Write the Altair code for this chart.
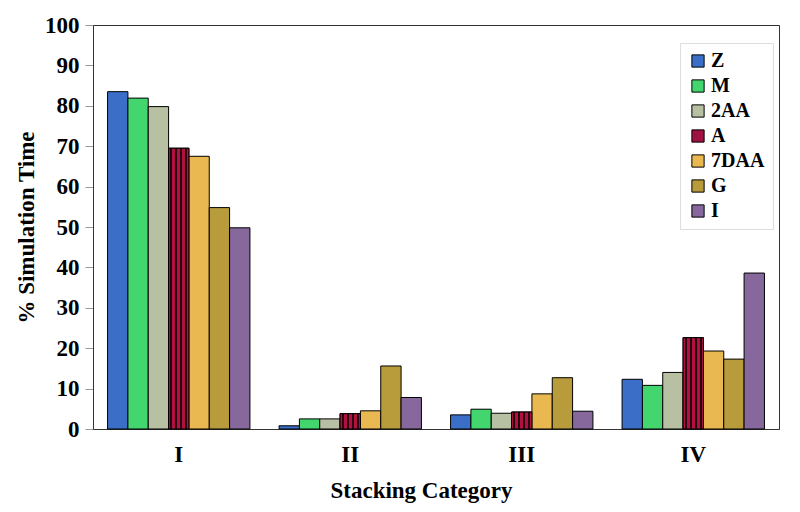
import altair as alt
import pandas as pd

categories = ["I", "II", "III", "IV"]
series = ["Z", "M", "2AA", "A", "7DAA", "G", "I"]
colors = ["#3b6fc7", "#44d66e", "#b7c0a2", "#9e1240", "#eab850", "#b89c3c", "#86689c"]

vals_Z = [83.5, 0.8, 3.5, 12.3]
vals_M = [81.9, 2.5, 4.9, 10.8]
vals_2AA = [79.8, 2.5, 3.9, 14.0]
vals_A = [69.5, 3.8, 4.2, 22.6]
vals_7DAA = [67.5, 4.5, 8.7, 19.3]
vals_G = [54.8, 15.6, 12.7, 17.3]
vals_I = [49.8, 7.8, 4.4, 38.6]

all_vals = [vals_Z, vals_M, vals_2AA, vals_A, vals_7DAA, vals_G, vals_I]
rows = []
for s, vs in zip(series, all_vals):
    for c, v in zip(categories, vs):
        rows.append({"cat": c, "series": s, "value": v})
df = pd.DataFrame(rows)

FONT = "Liberation Serif"

# vertical stripe fill (style only) for series A
stops = []
red, dark = "#b0123f", "#2a0010"
for k in range(4):
    a = (k * 5 + 1.5) / 20
    b = (k * 5 + 3.5) / 20
    stops += [{"offset": a, "color": red}, {"offset": a, "color": dark},
              {"offset": b, "color": dark}, {"offset": b, "color": red}]
stripe_fill = alt.LinearGradient(gradient="linear", x1=0, x2=1, y1=0, y2=0,
                                 stops=[{"offset": 0, "color": red}] + stops + [{"offset": 1, "color": red}])

x_enc = alt.X("cat:N", sort=categories, title="Stacking Category",
              scale=alt.Scale(paddingInner=0.17, paddingOuter=0.085),
              axis=alt.Axis(labelAngle=0, ticks=False, domain=True, domainColor="#333",
                            labelFontSize=23, labelFont=FONT, labelFontWeight="bold",
                            labelColor="black", labelPadding=14,
                            titleFontSize=23, titleFont=FONT, titleFontWeight="bold",
                            titleColor="black", titlePadding=13, titleX=328))
xo_enc = alt.XOffset("series:N", sort=series,
                     scale=alt.Scale(domain=series, paddingInner=0, paddingOuter=0))
y_enc = alt.Y("value:Q", title="% Simulation Time",
              scale=alt.Scale(domain=[0, 100], nice=False),
              axis=alt.Axis(values=list(range(0, 101, 10)), grid=False,
                            tickSize=8, tickColor="#999", domainColor="#333",
                            labelFontSize=23, labelFont=FONT, labelFontWeight="bold",
                            labelColor="black", labelPadding=6,
                            titleFontSize=23, titleFont=FONT, titleFontWeight="bold",
                            titleColor="black", titlePadding=6))

bars = alt.Chart(df).mark_bar(stroke="black", strokeWidth=1).encode(
    x=x_enc, xOffset=xo_enc, y=y_enc,
    fill=alt.Fill("series:N", sort=series,
                  scale=alt.Scale(domain=series, range=colors),
                  legend=alt.Legend(title=None, orient="none", legendX=587, legendY=18,
                                    symbolType="square", symbolSize=150,
                                    symbolStrokeColor="black", symbolStrokeWidth=1,
                                    labelFont=FONT, labelFontSize=20, labelFontWeight="bold",
                                    labelColor="black", rowPadding=5,
                                    strokeColor="#ddd", padding=8, labelOffset=3)),
)

stripes = alt.Chart(df).transform_filter(alt.datum.series == "A").mark_bar(
    stroke="black", strokeWidth=1, fill=stripe_fill
).encode(x=x_enc, xOffset=xo_enc, y=y_enc)

chart = alt.layer(bars, stripes).properties(
    width=686, height=404,
    autosize=alt.AutoSizeParams(type="none"),
    padding={"left": 85, "top": 17, "right": 5, "bottom": 75},
).configure_view(stroke="#333", strokeWidth=1)

chart.save("out.html", embed_options={"renderer": "svg", "actions": False})
